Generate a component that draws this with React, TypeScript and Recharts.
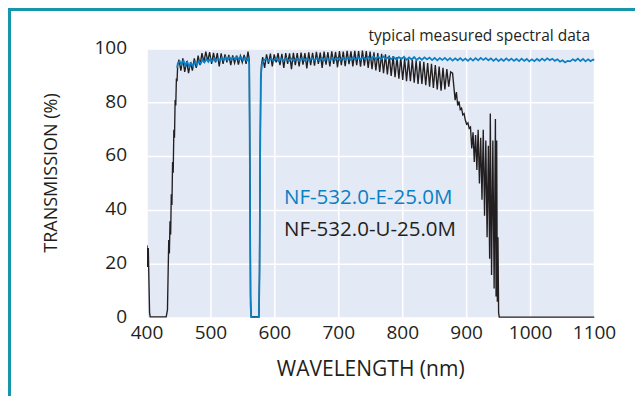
import { LineChart, Line, XAxis, YAxis, CartesianGrid } from "recharts";

const xTicks = [400, 500, 600, 700, 800, 900, 1000, 1100];
const yTicks = [0, 20, 40, 60, 80, 100];

// NF-532.0-U-25.0M, [wavelength nm, transmission %]
const uSeries: [number, number][] = [
  [400, 27], [401, 19], [402, 26], [403, 14], [404, 2], [405, 0.4], [430, 0.4],
  [432, 3], [433, 16], [434, 29], [435, 24], [436, 36], [437, 31], [438, 46],
  [439, 42], [440, 58], [441, 54], [442, 70], [443, 67], [444, 81], [445, 79],
  [446, 89], [447, 88], [448, 94], [450, 96],
  [453, 92], [456, 96.5], [459, 91.5], [462, 95.5], [465, 91], [468, 95], [471, 92],
  [474, 96.5], [477, 93], [480, 97.5], [483, 94], [486, 98.5], [489, 95], [492, 99],
  [495, 95.5], [498, 98.8], [501, 94.5], [504, 98.6], [507, 95], [510, 98.5],
  [513, 93.5], [516, 98.4], [519, 94.5], [522, 98], [525, 95], [528, 97.8], [531, 94],
  [534, 97.6], [537, 94.8], [540, 97.5], [543, 94.2], [546, 97.4], [549, 95],
  [552, 97.8], [555, 94.5], [558, 99],
  [560, 96], [561, 55], [562, 8], [563, 0.5], [575, 0.5], [576, 18], [577, 62],
  [578, 88], [579, 94], [581, 97],
  [584, 93], [587, 98], [590, 94.5], [593, 98.3], [596, 93.5], [599, 98], [602, 95],
  [605, 98.5], [608, 94], [611, 98.2], [614, 93], [617, 98.5], [620, 94.5], [623, 98.4],
  [626, 92.5], [629, 98.6], [632, 94], [635, 98.5], [638, 93.5], [641, 98.7], [644, 94.2],
  [647, 98.5], [650, 92.8], [653, 98.8], [656, 94], [659, 98.6], [662, 93.8], [665, 98.9],
  [668, 94.5], [671, 98.7], [674, 93], [677, 99], [680, 94.2], [683, 98.8], [686, 93.5],
  [689, 99.1], [692, 94.5], [695, 98.9], [698, 93.2], [701, 99.2], [704, 94], [707, 99],
  [710, 93.6], [713, 99.3], [716, 94.4], [719, 99.1], [722, 93.5], [725, 99.3], [728, 94],
  [731, 99.2], [734, 93.4], [737, 99.4], [740, 93.8],
  [743, 99.2], [746, 93], [749, 99], [752, 92.5], [755, 98.8], [758, 92], [761, 98.5],
  [764, 91.5], [767, 98.2], [770, 91], [773, 98], [776, 90.5], [779, 97.6], [782, 90],
  [785, 97.4], [788, 89.5], [791, 97], [794, 89], [797, 96.8], [800, 88.5], [803, 96.5],
  [806, 88], [809, 96.2], [812, 88], [815, 96], [818, 87.5], [821, 95.8], [824, 87],
  [827, 95.5], [830, 87], [833, 95.2], [836, 86.5], [839, 94.8], [842, 86], [845, 94.5],
  [848, 85.5], [851, 94], [854, 85], [857, 93.5], [860, 84.5], [863, 93], [866, 85],
  [869, 92.5], [872, 86], [875, 91.5], [878, 91],
  [880, 86], [882, 81], [884, 84], [886, 79], [888, 80.5], [890, 77.5], [892, 78],
  [894, 75.5], [896, 76], [898, 73.5], [900, 72], [902, 72.5], [904, 70.5], [906, 71],
  [908, 63], [910, 69], [912, 58], [914, 68], [916, 55], [918, 70], [920, 50],
  [922, 67], [924, 44], [926, 70], [928, 38], [930, 66], [932, 30], [934, 64],
  [936, 22], [937, 76], [939, 16], [941, 66], [943, 11], [945, 74], [946, 8],
  [947, 66], [948, 6], [949, 30], [950, 2], [951, 0.3], [1100, 0.3],
];

// NF-532.0-E-25.0M, [wavelength nm, transmission %]
const eSeries: [number, number][] = [
  [447, 93], [448, 94.5], [451, 95.5], [454, 94.2], [457, 95.8], [460, 93.8], [463, 95.2],
  [466, 93.4], [469, 94.8], [472, 93.5], [475, 95.2], [478, 94], [481, 95.6], [484, 94.6],
  [487, 96], [490, 95], [493, 96.3], [496, 95.2], [499, 96.4], [502, 95.4], [505, 96.5],
  [508, 95.5], [511, 96.6], [514, 95.6], [517, 96.8], [520, 95.8], [523, 96.9], [526, 95.9],
  [529, 97], [532, 96], [535, 97], [538, 96.1], [541, 97.1], [544, 96], [547, 97],
  [550, 95.8], [553, 96.8], [556, 95.6], [559, 96.5],
  [560, 94], [561, 50], [562, 5], [563, 0.3], [575, 0.3], [576, 15], [577, 60],
  [578, 90], [580, 94.5],
  [582, 95.6], [586, 96.4], [590, 95.5], [594, 96.5], [598, 95.6], [602, 96.4], [606, 95.4],
  [610, 96.5], [614, 95.7], [618, 96.6], [622, 95.5], [626, 96.4], [630, 95.6], [634, 96.5],
  [638, 95.5], [642, 96.6], [646, 95.7], [650, 96.5], [654, 95.6], [658, 96.7], [662, 95.8],
  [666, 96.6], [670, 95.6], [674, 96.7], [678, 95.8], [682, 96.6], [686, 95.7], [690, 96.8],
  [694, 95.9], [698, 96.7], [702, 95.8], [706, 96.8], [710, 95.9], [714, 96.9], [718, 96],
  [722, 96.9], [726, 96], [730, 97], [734, 96.1], [738, 97], [742, 96.2], [746, 97.1],
  [750, 96.2], [754, 97.2], [758, 96.3], [762, 97.1], [766, 96.2], [770, 97.2], [774, 96.3],
  [778, 97.1], [782, 96.2], [786, 97], [790, 96.1], [794, 97], [798, 96.2], [802, 97.1],
  [806, 96], [810, 96.9], [814, 96.1], [818, 97], [822, 95.9], [826, 96.8], [830, 96],
  [834, 96.9], [838, 96.1], [842, 96.8], [846, 95.9], [850, 96.7], [854, 95.8], [858, 96.6],
  [862, 95.9], [866, 96.7], [870, 95.8], [874, 96.6], [878, 95.7], [882, 96.5], [886, 95.8],
  [890, 96.6], [894, 95.7], [898, 96.4], [902, 95.6], [906, 96.5], [910, 95.7], [914, 96.6],
  [918, 95.8], [922, 96.7], [926, 95.9], [930, 96.6], [934, 95.8], [938, 96.5], [942, 95.6],
  [946, 96.4], [950, 95.5], [954, 96.3], [958, 95.6], [962, 96.5], [966, 95.7], [970, 96.4],
  [974, 95.6], [978, 96.3], [982, 95.5], [986, 96.4], [990, 95.6], [994, 96.3], [998, 95.4],
  [1002, 96.2], [1006, 95.5], [1010, 96.3], [1014, 95.6], [1018, 96.4], [1022, 95.7],
  [1026, 96.5], [1030, 95.8], [1034, 96.4], [1038, 95.6], [1042, 96.2], [1046, 95.3],
  [1050, 95.8], [1054, 95], [1058, 95.6], [1062, 95.4], [1066, 96.2], [1070, 95.6],
  [1074, 96.4], [1078, 95.5], [1082, 96.3], [1086, 95.4], [1090, 96.2], [1094, 95.5],
  [1098, 96.1], [1100, 95.8],
];

const uData = uSeries.map(([nm, t]) => ({ nm, t }));
const eData = eSeries.map(([nm, t]) => ({ nm, t }));

const font = "'Open Sans', sans-serif";
const ink = "#231f20";
const blue = "#0a7fc4";

export default function App() {
  return (
    <div style={{ position: "relative", width: 635, height: 388, fontFamily: font, color: ink }}>
      <div
        style={{
          position: "absolute",
          left: 0,
          top: 0,
          width: 640,
          height: 400,
          borderLeft: "3px solid #1596ab",
          borderTop: "3px solid #1596ab",
        }}
      />
      <div style={{ position: "absolute", left: 0, top: 0 }}>
        <LineChart width={635} height={388} margin={{ top: 41, right: 48.5, bottom: 48, left: 79 }}>
          <CartesianGrid fill="#e3e9f5" stroke="#ffffff" strokeWidth={1.5} />
          <XAxis
            type="number"
            dataKey="nm"
            domain={[400, 1100]}
            ticks={xTicks}
            height={30}
            axisLine={false}
            tickLine={false}
            tickSize={0}
            tickMargin={8}
            tick={{ fill: ink, fontSize: 19, fontFamily: font }}
            allowDataOverflow
          />
          <YAxis
            type="number"
            dataKey="t"
            domain={[0, 100]}
            ticks={yTicks}
            width={60}
            axisLine={false}
            tickLine={false}
            tickSize={0}
            tickMargin={20}
            tick={{ fill: ink, fontSize: 19, fontFamily: font, dy: -2 }}
            allowDataOverflow
          />
          <Line data={uData} dataKey="t" stroke={ink} strokeWidth={1.35} dot={false} type="linear" isAnimationActive={false} />
          <Line data={eData} dataKey="t" stroke={blue} strokeWidth={1.7} dot={false} type="linear" isAnimationActive={false} />
        </LineChart>
      </div>
      <div style={{ position: "absolute", right: 53, top: 20, fontSize: 15.5, lineHeight: 1, whiteSpace: "nowrap" }}>
        typical measured spectral data
      </div>
      <div style={{ position: "absolute", left: 276, top: 178, fontSize: 20.5, lineHeight: 1, color: blue, whiteSpace: "nowrap" }}>
        NF-532.0-E-25.0M
      </div>
      <div style={{ position: "absolute", left: 276, top: 210, fontSize: 20.5, lineHeight: 1, whiteSpace: "nowrap" }}>
        NF-532.0-U-25.0M
      </div>
      <div
        style={{
          position: "absolute",
          left: 362.7,
          top: 350,
          transform: "translateX(-50%)",
          fontSize: 21,
          lineHeight: 1,
          whiteSpace: "nowrap",
        }}
      >
        WAVELENGTH (nm)
      </div>
      <div
        style={{
          position: "absolute",
          left: 42,
          top: 164.5,
          transform: "translate(-50%, -50%) rotate(-90deg)",
          fontSize: 18,
          lineHeight: 1,
          whiteSpace: "nowrap",
        }}
      >
        TRANSMISSION (%)
      </div>
    </div>
  );
}
